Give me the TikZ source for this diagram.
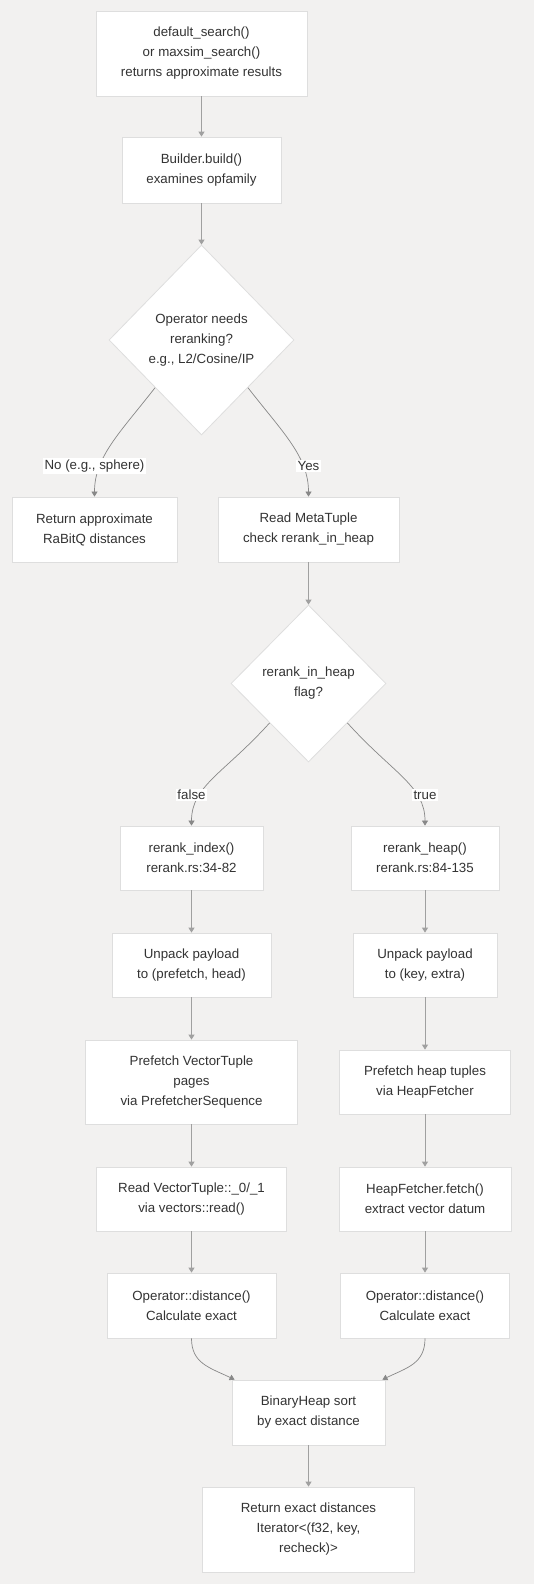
\documentclass[tikz,border=0pt]{standalone}
\usepackage{fontspec}
\setmainfont{Liberation Sans}
\usetikzlibrary{shapes.geometric,arrows.meta,calc}
\definecolor{bg}{RGB}{242,241,240}
\definecolor{bordc}{RGB}{222,222,222}
\definecolor{txtc}{RGB}{51,51,51}
\definecolor{linec}{RGB}{160,160,160}
\begin{document}
\begin{tikzpicture}[x=1pt,y=-1pt,
  box/.style={draw=bordc,line width=0.8pt,fill=white,rectangle,align=center,inner sep=0pt,text=txtc,font=\fontsize{13.3pt}{20pt}\selectfont},
  dia/.style={draw=bordc,line width=0.8pt,fill=white,diamond,align=center,inner sep=0pt,text=txtc,font=\fontsize{13.3pt}{20pt}\selectfont},
  lbl/.style={fill=white,inner sep=1.5pt,text=txtc,font=\fontsize{13.3pt}{16pt}\selectfont},
  arr/.style={draw=linec,line width=1pt,-{Triangle[width=6pt,length=5pt]}},
  carr/.style={draw=linec!85!black,line width=0.7pt,-{Triangle[width=6pt,length=5pt]}}]
\useasboundingbox[fill=bg] (0,0) rectangle (534,1584);

\node[box,minimum width=211pt,minimum height=85pt] (b1) at (201.5,53.5) {default\_search()\\or maxsim\_search()\\returns approximate results};
\node[box,minimum width=159pt,minimum height=66pt] (b2) at (201.5,170) {Builder.build()\\examines opfamily};
\node[dia,minimum width=185pt,minimum height=190pt] (d1) at (201.5,340) {Operator needs\\reranking?\\e.g., L2/Cosine/IP};
\node[box,minimum width=165pt,minimum height=65pt] (b3) at (94.5,529.5) {Return approximate\\RaBitQ distances};
\node[box,minimum width=181pt,minimum height=65pt] (b4) at (308.5,529.5) {Read MetaTuple\\check rerank\_in\_heap};
\node[dia,minimum width=155pt,minimum height=157pt] (d2) at (308.5,683.5) {rerank\_in\_heap\\flag?};
\node[box,minimum width=143pt,minimum height=64pt] (b5) at (191.5,858) {rerank\_index()\\rerank.rs:34-82};
\node[box,minimum width=148pt,minimum height=64pt] (b6) at (425,858) {rerank\_heap()\\rerank.rs:84-135};
\node[box,minimum width=159pt,minimum height=64pt] (b7) at (191.5,965) {Unpack payload\\to (prefetch, head)};
\node[box,minimum width=144pt,minimum height=64pt] (b8) at (425,965) {Unpack payload\\to (key, extra)};
\node[box,minimum width=212pt,minimum height=84pt] (b9) at (191.5,1082) {Prefetch VectorTuple\\pages\\via PrefetcherSequence};
\node[box,minimum width=171pt,minimum height=64pt] (b10) at (425,1082) {Prefetch heap tuples\\via HeapFetcher};
\node[box,minimum width=190pt,minimum height=64pt] (b11) at (191.5,1199) {Read VectorTuple::\_0/\_1\\via vectors::read()};
\node[box,minimum width=172pt,minimum height=64pt] (b12) at (425,1199) {HeapFetcher.fetch()\\extract vector datum};
\node[box,minimum width=169pt,minimum height=65pt] (b13) at (191.5,1305.5) {Operator::distance()\\Calculate exact};
\node[box,minimum width=169pt,minimum height=65pt] (b14) at (425,1305.5) {Operator::distance()\\Calculate exact};
\node[box,minimum width=153pt,minimum height=65pt] (b15) at (308.5,1412.5) {BinaryHeap sort\\by exact distance};
\node[box,minimum width=212pt,minimum height=85pt] (b16) at (308.5,1529.5) {Return exact distances\\Iterator<(f32, key,\\recheck)>};

\draw[arr] (b1.south) -- (b2.north);
\draw[arr] (b2.south) -- (d1.north);
\draw[carr] (d1.south west) .. controls +(-35,45) and +(0,-40) .. (b3.north);
\draw[carr] (d1.south east) .. controls +(35,45) and +(0,-40) .. (b4.north);
\draw[arr] (b4.south) -- (d2.north);
\draw[carr] (d2.south west) .. controls +(-45,50) and +(0,-40) .. (b5.north);
\draw[carr] (d2.south east) .. controls +(45,50) and +(0,-40) .. (b6.north);
\draw[arr] (b5.south) -- (b7.north);
\draw[arr] (b6.south) -- (b8.north);
\draw[arr] (b7.south) -- (b9.north);
\draw[arr] (b8.south) -- (b10.north);
\draw[arr] (b9.south) -- (b11.north);
\draw[arr] (b10.south) -- (b12.north);
\draw[arr] (b11.south) -- (b13.north);
\draw[arr] (b12.south) -- (b14.north);
\draw[carr] (b13.south) .. controls +(0,25) and +(-25,-12) .. ($(b15.north west)+(3,0)$);
\draw[carr] (b14.south) .. controls +(0,25) and +(25,-12) .. ($(b15.north east)+(-3,0)$);
\draw[arr] (b15.south) -- (b16.north);

\node[lbl] (l1) at (94.5,466) {No (e.g., sphere)};
\node[lbl] (l2) at (308.5,466) {Yes};
\node[lbl] (l3) at (191.5,795) {false};
\node[lbl] (l4) at (425,795) {true};
\end{tikzpicture}
\end{document}
